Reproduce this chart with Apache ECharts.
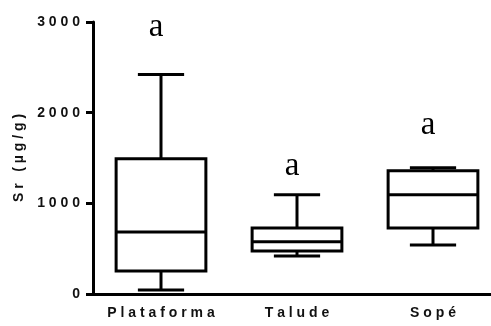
<!DOCTYPE html>
<html>
<head>
<meta charset="utf-8">
<script src="https://cdn.jsdelivr.net/npm/echarts@6/dist/echarts.min.js"></script>
<style>
  html, body { margin: 0; padding: 0; background: #fff; }
  #chart { width: 491px; height: 326px; }
</style>
</head>
<body>
<div id="chart"></div>
<script>
// Sr concentration by sector (box: min / Q1 / median / Q3 / max)
const categories = ['Plataforma', 'Talude', 'Sopé'];
const whiskerLow = [44, 420, 541];
const quartile1 = [254, 475, 729];
const medians = [685, 575, 1094];
const quartile3 = [1492, 729, 1359];
const whiskerHigh = [2420, 1094, 1392];
const groupLetters = ['a', 'a', 'a'];
const letterLevels = [2945, 1405, 1865];
const yTicks = [0, 1000, 2000, 3000];
const yAxisTitle = 'Sr (µg/g)';

// wide tracking for axis texts
const spaced = s => Array.from(String(s)).join(' ');

const boxData = categories.map((c, i) =>
  [i, whiskerLow[i], quartile1[i], medians[i], quartile3[i], whiskerHigh[i]]);
const letterData = categories.map((c, i) => [i, letterLevels[i]]);

const axisFont = { fontFamily: 'Liberation Sans', fontWeight: 'bold', fontSize: 14, color: '#111' };

const chart = echarts.init(document.getElementById('chart'), null, { renderer: 'canvas' });
chart.setOption({
  animation: false,
  backgroundColor: '#fff',
  grid: { left: 93, width: 408, top: 22, bottom: 32, outerBoundsMode: 'none', containLabel: false },
  xAxis: {
    type: 'category',
    data: categories,
    boundaryGap: true,
    axisLine: { lineStyle: { color: '#000', width: 3 } },
    axisTick: { alignWithLabel: true, length: 8, lineStyle: { color: '#000', width: 3 } },
    axisLabel: Object.assign({ margin: 12, interval: 0, formatter: v => spaced(v) }, axisFont),
    splitLine: { show: false }
  },
  yAxis: {
    type: 'value',
    min: yTicks[0],
    max: yTicks[yTicks.length - 1],
    interval: yTicks[1] - yTicks[0],
    name: spaced(yAxisTitle),
    nameLocation: 'middle',
    nameGap: 66,
    nameRotate: 90,
    nameTextStyle: axisFont,
    axisLine: { show: true, lineStyle: { color: '#000', width: 3 } },
    axisTick: { show: true, length: 7, lineStyle: { color: '#000', width: 3 } },
    axisLabel: Object.assign({ margin: 13, formatter: v => spaced(v) }, axisFont),
    splitLine: { show: false }
  },
  series: [
    {
      type: 'custom',
      data: boxData,
      encode: { x: 0, y: [1, 2, 3, 4, 5] },
      renderItem: function (params, api) {
        const x = api.value(0);
        const lo = api.coord([x, api.value(1)]);
        const q1 = api.coord([x, api.value(2)]);
        const md = api.coord([x, api.value(3)]);
        const q3 = api.coord([x, api.value(4)]);
        const hi = api.coord([x, api.value(5)]);
        const band = api.size([1, 0])[0];
        const boxW = band * 0.66;
        const capW = band * 0.34;
        const cx = lo[0];
        const st = { stroke: '#000', lineWidth: 3, fill: null };
        const line = (x1, y1, x2, y2) => ({ type: 'line', shape: { x1, y1, x2, y2 }, style: st });
        return {
          type: 'group',
          children: [
            line(cx, hi[1], cx, q3[1]),
            line(cx, q1[1], cx, lo[1]),
            line(cx - capW / 2, hi[1], cx + capW / 2, hi[1]),
            line(cx - capW / 2, lo[1], cx + capW / 2, lo[1]),
            { type: 'rect', shape: { x: cx - boxW / 2, y: q3[1], width: boxW, height: q1[1] - q3[1] },
              style: { stroke: '#000', lineWidth: 3, fill: '#fff' } },
            line(cx - boxW / 2, md[1], cx + boxW / 2, md[1])
          ]
        };
      }
    },
    {
      type: 'custom',
      data: letterData,
      clip: false,
      renderItem: function (params, api) {
        const p = api.coord([api.value(0), api.value(1)]);
        return {
          type: 'text',
          x: p[0] - 5,
          y: p[1],
          style: {
            text: groupLetters[params.dataIndex],
            font: '33px "Liberation Serif", "Times New Roman", serif',
            fill: '#000',
            align: 'center',
            verticalAlign: 'middle'
          }
        };
      }
    }
  ]
});
</script>
</body>
</html>
